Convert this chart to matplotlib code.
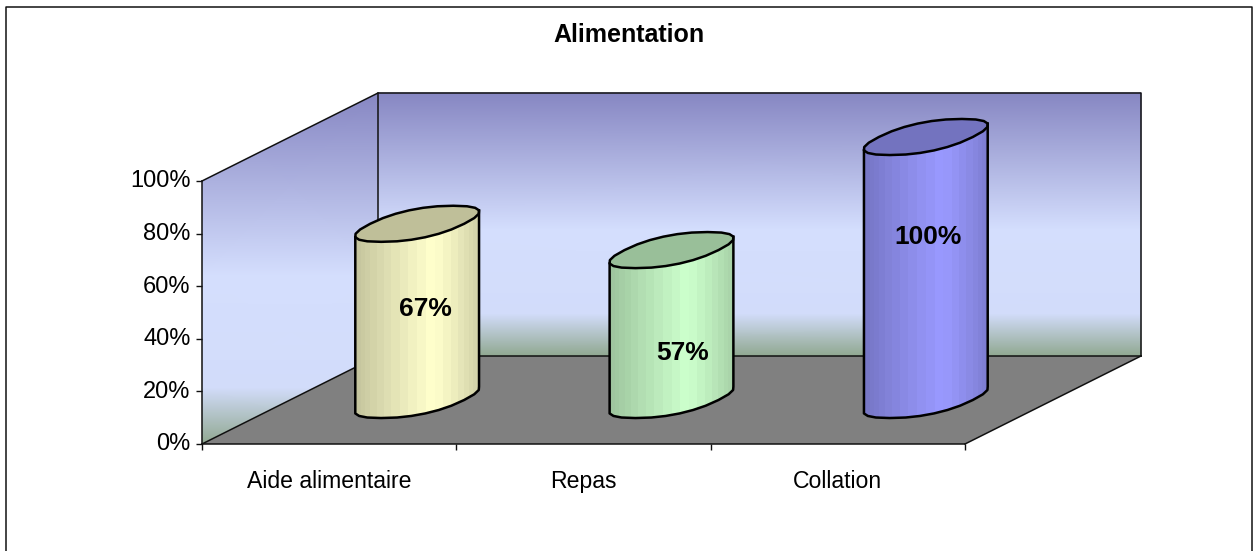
import numpy as np
import matplotlib
matplotlib.use("Agg")
import matplotlib.pyplot as plt
from matplotlib.colors import to_rgb
from matplotlib.lines import Line2D
from matplotlib.patches import Polygon
from matplotlib.transforms import ScaledTranslation

plt.rcParams['font.family'] = ['Liberation Sans', 'DejaVu Sans']

# Donnees
title = "Alimentation"
categories = ["Aide alimentaire", "Repas", "Collation"]
values = [67, 57, 100]
value_labels = ["67%", "57%", "100%"]
y_ticks = [0, 20, 40, 60, 80, 100]
y_tick_labels = ["0%", "20%", "40%", "60%", "80%", "100%"]
bar_colors = ["#ffffcc", "#ccffcc", "#9999ff"]

# Geometrie du faux 3D (unites : categories en x, pourcents en y)
W, H = 1253, 551
DX = 176 / (763 / 3)
DY = 88 / 2.63
RX = 47 / (763 / 3)
RD = 0.205
label_x = [0.877, 1.891, 2.855]
label_y = [51.3, 34.6, 78.7]

wall_stops = [0.0, 0.52, 0.84, 1.0]
wall_colors = ["#8686c2", "#d4defd", "#d2dcfa", "#8fa78f"]


def proj(cat, depth, val):
    return cat + depth * DX, val + depth * DY


def ellipse(center, val, t):
    # un peu plus carre qu'une vraie ellipse, comme dans Excel
    c = np.sign(np.cos(t)) * np.abs(np.cos(t)) ** 0.85
    s = np.sign(np.sin(t)) * np.abs(np.sin(t)) ** 0.85
    return proj(center + RX * c, 0.5 + RD * s, val)


def draw_walls(ax):
    rows = np.array(wall_stops)
    cols = np.array([to_rgb(c) for c in wall_colors])
    C = np.stack([cols, cols], axis=1)
    # mur du fond
    Xb = np.tile([DX, 3 + DX], (4, 1))
    Yb = np.tile((100 * (1 - rows) + DY)[:, None], (1, 2))
    ax.pcolormesh(Xb, Yb, C, shading="gouraud", clip_on=False, zorder=1)
    # mur de gauche : bandes horizontales, coupees par le parallelogramme
    Xl = np.tile([0, DX], (4, 1))
    Yl = np.tile(((100 + DY) * (1 - rows))[:, None], (1, 2))
    left = ax.pcolormesh(Xl, Yl, C, shading="gouraud", zorder=1)
    left.set_clip_box(None)
    left.set_clip_path(Polygon([(0, 0), (DX, DY), (DX, 100 + DY), (0, 100)], transform=ax.transData))
    # sol
    ax.add_patch(Polygon([(0, 0), (3, 0), (3 + DX, DY), (DX, DY)], fc="#808080", ec="none",
                         clip_on=False, zorder=2))
    lw = 1.1
    for xs, ys in [([0, DX, 3 + DX, 3 + DX], [100, 100 + DY, 100 + DY, DY]),
                   ([DX, DX], [100 + DY, DY]),
                   ([0, DX], [0, DY]),
                   ([3, 3 + DX], [0, DY]),
                   ([DX, 3 + DX], [DY, DY])]:
        ax.plot(xs, ys, color="#111111", lw=lw, clip_on=False, zorder=3)


def draw_bar(ax, i, val, color):
    center = i + 0.5
    base = np.array(to_rgb(color))

    t = np.linspace(0, 2 * np.pi, 24, endpoint=False)
    ex0, ey0 = ellipse(center, 0, t)
    ir, il = np.argmax(ex0), np.argmin(ex0)
    # de l'extreme droit vers le gauche par l'arriere, puis retour par l'avant
    order = np.roll(np.arange(24), -ir)
    k = int(np.where(order == il)[0][0])
    back = t[order[:k + 1]]
    front = t[np.r_[order[k:], order[0]]]

    bx, by = ellipse(center, 0, front)
    tx, ty = ellipse(center, val, back)
    outline = np.column_stack([np.r_[bx, tx], np.r_[by, ty]])

    # bandes verticales du cylindre
    angles = np.linspace(np.pi, 0, 23)
    xmin, xmax = ex0.min(), ex0.max()
    edges = (xmin + xmax) / 2 + (xmax - xmin) / 2 * np.cos(angles)
    mid = (edges[:-1] + edges[1:]) / 2
    pos = (mid - xmin) / (xmax - xmin)
    shade = np.where(pos < 0.62, 0.76 + 0.24 * (pos / 0.62) ** 0.9,
                     1.0 - 0.19 * ((pos - 0.62) / 0.38) ** 1.3)
    C = (shade[:, None] * base)[None, :, :]
    mesh = ax.pcolormesh(edges, [by.min() - 2, ty.max() + 2], C, shading="flat", zorder=4)
    mesh.set_clip_box(None)
    mesh.set_clip_path(Polygon(outline, transform=ax.transData))

    # dessus
    ex, ey = ellipse(center, val, t)
    ax.add_patch(Polygon(np.column_stack([ex, ey]), fc=base * 0.75, ec="black", lw=1.8,
                         joinstyle="round", clip_on=False, zorder=5))
    # contour bas et cotes
    ax.plot(np.r_[tx[0], bx[::-1], tx[-1]], np.r_[ty[0], by[::-1], ty[-1]], color="black", lw=1.8,
            solid_joinstyle="round", clip_on=False, zorder=5)


fig = plt.figure(figsize=(W / 100, H / 100), dpi=100, facecolor="white")
ax = fig.add_axes([202 / W, 1 - 444 / H, 763 / W, 263 / H])
ax.set_xlim(0, 3)
ax.set_ylim(0, 100)
ax.patch.set_visible(False)

draw_walls(ax)
for i in range(len(categories)):
    draw_bar(ax, i, values[i], bar_colors[i])
    ax.text(label_x[i], label_y[i], value_labels[i], ha="center", va="center", fontsize=19,
            fontweight="bold", color="black", zorder=6)

for s in ["top", "right"]:
    ax.spines[s].set_visible(False)
for s in ["left", "bottom"]:
    ax.spines[s].set_linewidth(1.1)
    ax.spines[s].set_color("#111111")
    ax.spines[s].set_zorder(3)

ax.set_yticks(y_ticks)
ax.set_yticklabels(y_tick_labels, fontsize=17)
ax.set_xticks([0, 1, 2, 3])
ax.set_xticklabels([])
ax.set_xticks([0.5, 1.5, 2.5], minor=True)
ax.set_xticklabels(categories, minor=True, fontsize=16.6)
ax.tick_params(axis="y", length=4.3, width=1.0, pad=4, color="#111111")
ax.tick_params(axis="x", which="major", length=4.3, width=1.0, color="#111111")
ax.tick_params(axis="x", which="minor", length=0, pad=18.5)
for lab in ax.get_yticklabels():
    lab.set_transform(lab.get_transform() + ScaledTranslation(0, 1.5 / 72, fig.dpi_scale_trans))

fig.suptitle(title, x=629 / W, y=1 - 35 / H, va="center", ha="center", fontsize=18, fontweight="bold")

# cadre du graphique
fig.add_artist(Line2D([5.5 / W, 5.5 / W, 1252 / W, 1252 / W], [0, 1 - 6.5 / H, 1 - 6.5 / H, 0],
                      color="#111111", lw=1.1))

fig.savefig("out.png", dpi=100)
